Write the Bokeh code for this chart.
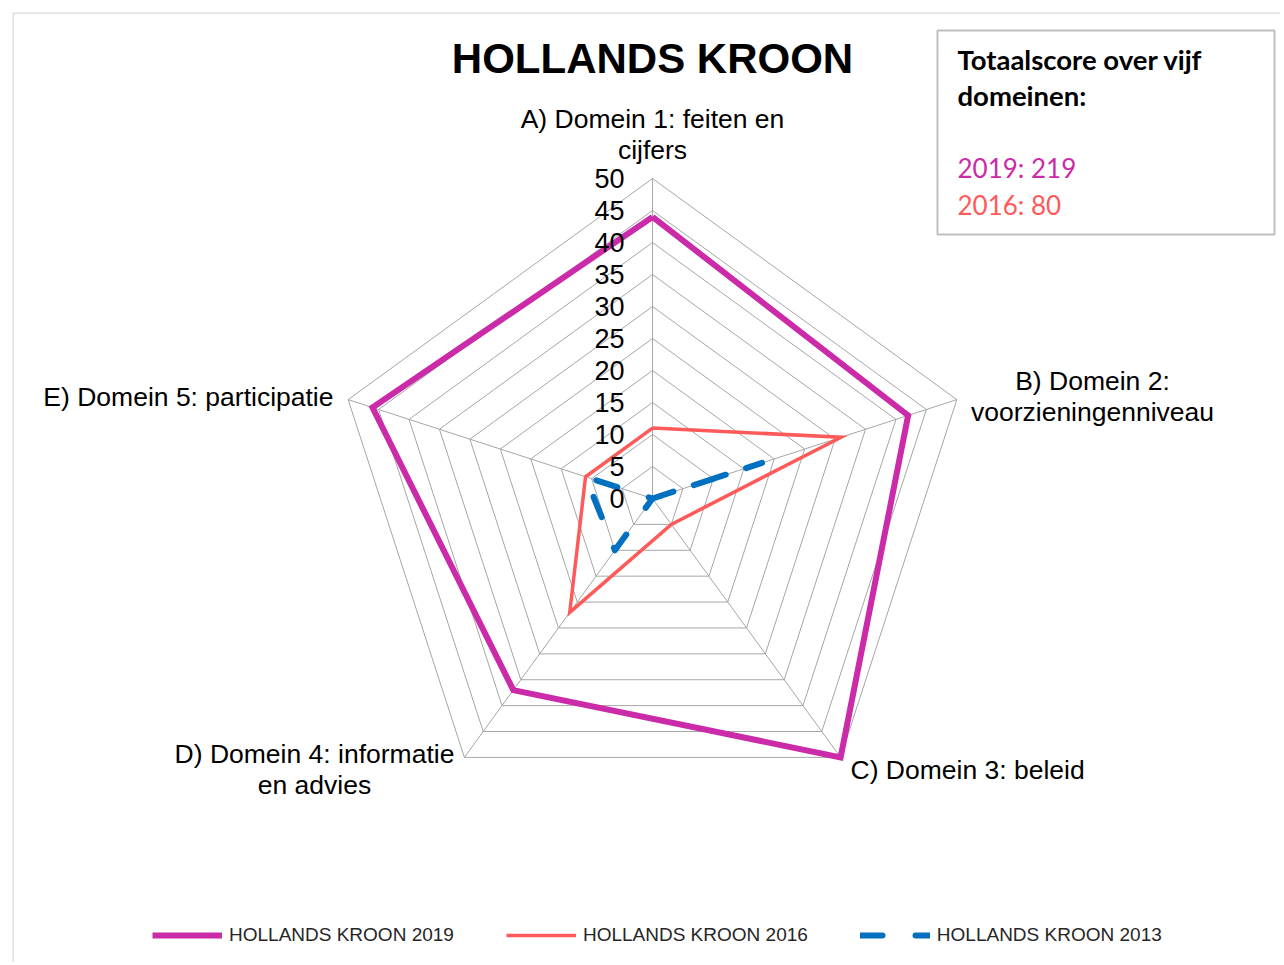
import numpy as np
from bokeh.plotting import figure
from bokeh.models import Range1d, Legend, LegendItem
from bokeh.core.properties import value
from bokeh.embed import file_html
from bokeh.resources import INLINE

# ---------------- data ----------------
title = "HOLLANDS KROON"
categories = ["A) Domein 1: feiten en\ncijfers",
              "B) Domein 2:\nvoorzieningenniveau",
              "C) Domein 3: beleid",
              "D) Domein 4: informatie\nen advies",
              "E) Domein 5: participatie"]
series_names = ["HOLLANDS KROON 2019", "HOLLANDS KROON 2016", "HOLLANDS KROON 2013"]
v2019 = [44, 42, 50, 37, 46]
v2016 = [11, 31, 5, 22, 11]
v2013 = [0, 18, 0, 10, 11]
ticks = [0, 5, 10, 15, 20, 25, 30, 35, 40, 45, 50]
box_title = ["Totaalscore over vijf", "domeinen:"]
box_scores = ["2019: 219", "2016: 80"]

# ---------------- layout helpers ----------------
S = 6.4              # pixels per unit
CX, CY = 652, 498    # radar centre in page pixels
def dx(px): return (px - CX) / S
def dy(py): return (CY - py) / S

W, H = 1280, 962
FL, FT = 12, 12      # frame left / top
p = figure(width=W, height=H, output_backend="svg", toolbar_location=None,
           x_axis_location=None, y_axis_location=None,
           x_range=Range1d(dx(FL), dx(W)), y_range=Range1d(dy(H), dy(FT)),
           min_border_left=FL, min_border_top=FT, min_border_right=0, min_border_bottom=0)
p.grid.visible = False
p.outline_line_color = None
p.background_fill_color = "white"

# chart-area border (top and left edges visible)
p.segment(x0=[dx(FL + 0.5), dx(FL + 0.5)], y0=[dy(FT + 0.5), dy(FT + 0.5)],
          x1=[dx(W), dx(FL + 0.5)], y1=[dy(FT + 0.5), dy(H)],
          line_color="#BFBFBF", line_width=1)

n = len(categories)
ang = np.pi / 2 - np.arange(n) * 2 * np.pi / n
def pts(vals):
    v = np.asarray(vals, dtype=float)
    x = v * np.cos(ang)
    y = v * np.sin(ang)
    return list(x) + [x[0]], list(y) + [y[0]]

# grid rings and spokes
rmax = ticks[-1]
for t in ticks[1:]:
    gx, gy = pts([t] * n)
    p.line(gx, gy, line_color="#A6A6A6", line_width=1)
p.segment(x0=[0] * n, y0=[0] * n, x1=list(rmax * np.cos(ang)), y1=list(rmax * np.sin(ang)),
          line_color="#A6A6A6", line_width=1)

# series
x13, y13 = pts(v2013)
x16, y16 = pts(v2016)
x19, y19 = pts(v2019)
r19 = p.line(x19, y19, line_color="#CB2BA8", line_width=6, line_join="miter")
r16 = p.line(x16, y16, line_color="#FF5A5A", line_width=3.5, line_join="miter")
r13 = p.line(x13, y13, line_color="#0070C0", line_width=6, line_dash="22 33",
             line_cap="round", line_join="round")

# tick labels on the A axis
p.text(x=[dx(624)] * len(ticks), y=ticks, text=[str(t) for t in ticks],
       text_align="right", text_baseline="middle", text_font=value("Liberation Sans"),
       text_font_size="27px", text_color="black")

# category labels
anchors = [(652, 118, "center"), (1092, 380, "center"), (850, 769, "left"),
           (314, 753, "center"), (333, 396, "right")]
for lab, (ax, ay, al) in zip(categories, anchors):
    lines = lab.split("\n")
    p.text(x=[dx(ax)] * len(lines), y=[dy(ay + 31 * i) for i in range(len(lines))], text=lines,
           text_align=al, text_baseline="middle", text_font=value("Liberation Sans"),
           text_font_size="26.5px", text_color="black")

# title
p.text(x=[dx(652)], y=[dy(58)], text=[title], text_align="center", text_baseline="middle",
       text_font=value("Liberation Sans"), text_font_style="bold", text_font_size="42px",
       text_color="black")

# score box
p.quad(left=[dx(937)], right=[dx(1274)], top=[dy(30)], bottom=[dy(234)],
       fill_color="white", line_color="#BFBFBF", line_width=2)
p.text(x=[dx(957)] * 2, y=[dy(59), dy(95)], text=box_title, text_align="left",
       text_baseline="middle", text_font=value("Lato"), text_font_style="bold",
       text_font_size="27.5px", text_color="black")
p.text(x=[dx(957)] * 2, y=[dy(167), dy(204)], text=box_scores, text_align="left",
       text_baseline="middle", text_font=value("Lato"), text_font_size="26px",
       text_color=["#CB2BA8", "#FF5A5A"])

# legend
legend = Legend(items=[LegendItem(label=series_names[0], renderers=[r19]),
                       LegendItem(label=series_names[1], renderers=[r16]),
                       LegendItem(label=series_names[2], renderers=[r13])],
                orientation="horizontal", location=(140, 16))
legend.border_line_color = None
legend.background_fill_alpha = 0
legend.label_text_font = "Liberation Sans"
legend.label_text_font_size = "19px"
legend.label_text_color = "#262626"
legend.glyph_width = 70
legend.glyph_height = 20
legend.label_height = 20
legend.spacing = 52
legend.label_standoff = 7
legend.padding = 0
legend.margin = 0
p.add_layout(legend, "center")

open("out.html", "w").write(file_html(p, INLINE))
